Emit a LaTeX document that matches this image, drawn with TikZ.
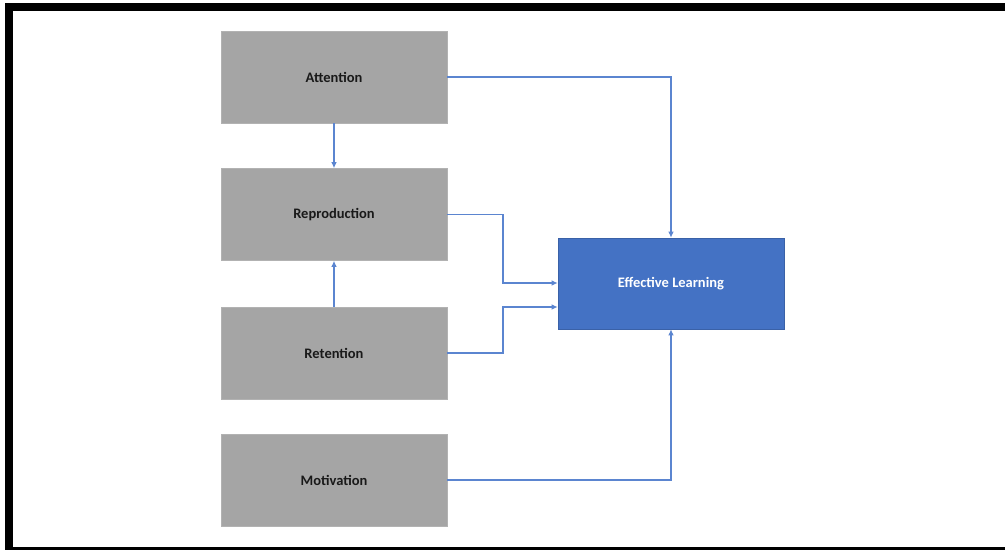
\documentclass[tikz,border=0pt]{standalone}
\usepackage{fontspec}
\setmainfont{Carlito}
\usetikzlibrary{arrows.meta}
\definecolor{boxgray}{HTML}{A5A5A5}
\definecolor{elblue}{HTML}{4472C4}
\definecolor{lineblue}{HTML}{5B85D0}
\tikzset{
  graybox/.style={draw=boxgray!85!white, line width=0.6pt, fill=boxgray, minimum width=226pt, minimum height=92pt, inner sep=0pt, font=\bfseries\fontsize{14.5}{17}\selectfont, text=black!90},
  bluebox/.style={draw=elblue!85!black, line width=0.6pt, fill=elblue, minimum width=226pt, minimum height=91pt, inner sep=0pt, font=\bfseries\fontsize{14.5}{17}\selectfont, text=white},
  conn/.style={draw=lineblue, line width=1.1pt, -{Latex[length=6pt,width=5.5pt]}}
}
\begin{document}
\begin{tikzpicture}[x=1pt,y=-1pt]
\useasboundingbox (0,0) rectangle (1005,550);
\fill[white] (0,0) rectangle (1005,550);
\fill[black] (5,3) rectangle (1005,11);
\fill[black] (5,3) rectangle (13,550);
\fill[black] (5,547) rectangle (1005,550);
\node[graybox] (att) at (334,77) {Attention};
\node[graybox] (rep) at (334,214.5) {Reproduction};
\node[graybox] (ret) at (334,353) {Retention};
\node[graybox] (mot) at (334,480) {Motivation};
\node[bluebox] (el) at (671,283.5) {Effective Learning};
\coordinate (rj) at (503,0);
\draw[conn] (att.east) -| (el.north);
\draw[conn] (mot.east) -| (el.south);
\draw[conn] (att.south) -- (rep.north);
\draw[conn] (ret.north) -- (rep.south);
\draw[conn] (rep.east) -- (rep.east -| rj) |- ([yshift=0.5pt]el.west);
\draw[conn] (ret.east) -- (ret.east -| rj) |- ([yshift=-23.5pt]el.west);
\end{tikzpicture}
\end{document}
